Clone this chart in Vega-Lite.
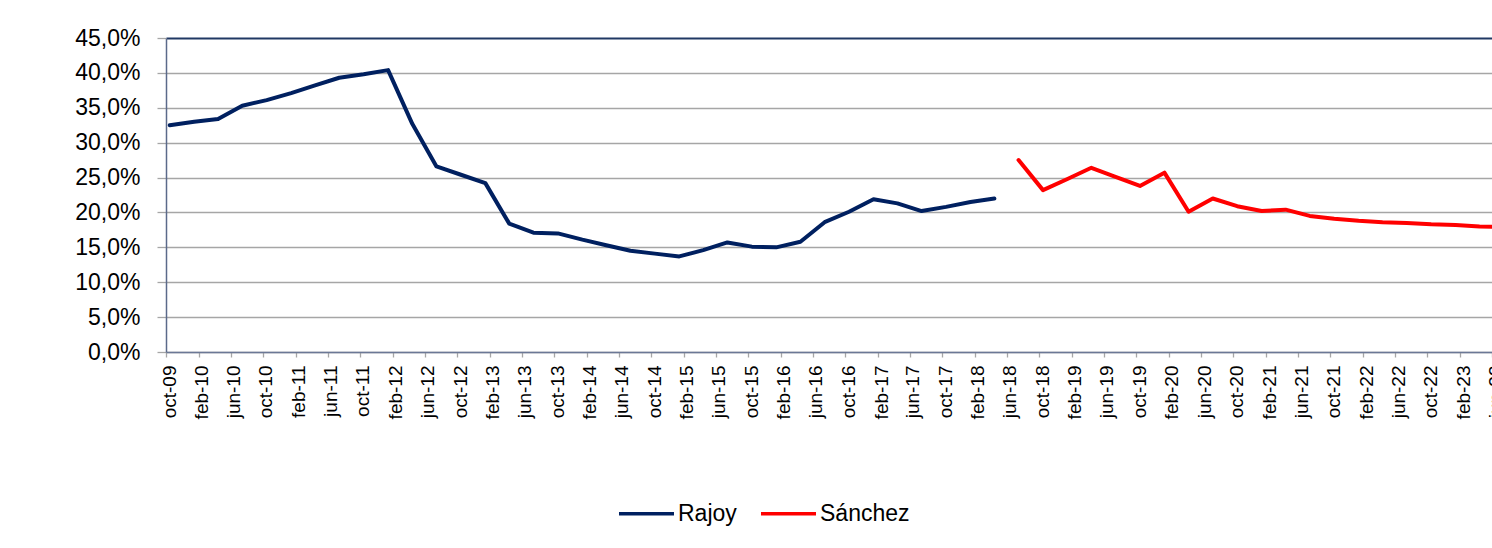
{
  "$schema": "https://vega.github.io/schema/vega-lite/v6.json",
  "width": 1326,
  "height": 314,
  "autosize": {"type": "none"},
  "padding": {"left": 166, "top": 38, "right": 0, "bottom": 196},
  "background": "white",
  "config": {
    "view": {"stroke": null},
    "font": "Liberation Sans"
  },
  "data": {
    "values": [
      {"fecha": "2009-10-15", "serie": "Rajoy", "tasa": 0.325},
      {"fecha": "2010-01-15", "serie": "Rajoy", "tasa": 0.330},
      {"fecha": "2010-04-15", "serie": "Rajoy", "tasa": 0.334},
      {"fecha": "2010-07-15", "serie": "Rajoy", "tasa": 0.353},
      {"fecha": "2010-10-15", "serie": "Rajoy", "tasa": 0.361},
      {"fecha": "2011-01-15", "serie": "Rajoy", "tasa": 0.371},
      {"fecha": "2011-04-15", "serie": "Rajoy", "tasa": 0.382},
      {"fecha": "2011-07-15", "serie": "Rajoy", "tasa": 0.393},
      {"fecha": "2011-10-15", "serie": "Rajoy", "tasa": 0.398},
      {"fecha": "2012-01-15", "serie": "Rajoy", "tasa": 0.404},
      {"fecha": "2012-04-15", "serie": "Rajoy", "tasa": 0.327},
      {"fecha": "2012-07-15", "serie": "Rajoy", "tasa": 0.266},
      {"fecha": "2012-10-15", "serie": "Rajoy", "tasa": 0.254},
      {"fecha": "2013-01-15", "serie": "Rajoy", "tasa": 0.242},
      {"fecha": "2013-04-15", "serie": "Rajoy", "tasa": 0.184},
      {"fecha": "2013-07-15", "serie": "Rajoy", "tasa": 0.171},
      {"fecha": "2013-10-15", "serie": "Rajoy", "tasa": 0.170},
      {"fecha": "2014-01-15", "serie": "Rajoy", "tasa": 0.161},
      {"fecha": "2014-04-15", "serie": "Rajoy", "tasa": 0.153},
      {"fecha": "2014-07-15", "serie": "Rajoy", "tasa": 0.145},
      {"fecha": "2014-10-15", "serie": "Rajoy", "tasa": 0.141},
      {"fecha": "2015-01-15", "serie": "Rajoy", "tasa": 0.137},
      {"fecha": "2015-04-15", "serie": "Rajoy", "tasa": 0.146},
      {"fecha": "2015-07-15", "serie": "Rajoy", "tasa": 0.157},
      {"fecha": "2015-10-15", "serie": "Rajoy", "tasa": 0.151},
      {"fecha": "2016-01-15", "serie": "Rajoy", "tasa": 0.150},
      {"fecha": "2016-04-15", "serie": "Rajoy", "tasa": 0.158},
      {"fecha": "2016-07-15", "serie": "Rajoy", "tasa": 0.186},
      {"fecha": "2016-10-15", "serie": "Rajoy", "tasa": 0.201},
      {"fecha": "2017-01-15", "serie": "Rajoy", "tasa": 0.219},
      {"fecha": "2017-04-15", "serie": "Rajoy", "tasa": 0.213},
      {"fecha": "2017-07-15", "serie": "Rajoy", "tasa": 0.202},
      {"fecha": "2017-10-15", "serie": "Rajoy", "tasa": 0.208},
      {"fecha": "2018-01-15", "serie": "Rajoy", "tasa": 0.215},
      {"fecha": "2018-04-15", "serie": "Rajoy", "tasa": 0.220},
      {"fecha": "2018-07-15", "serie": "Sánchez", "tasa": 0.275},
      {"fecha": "2018-10-15", "serie": "Sánchez", "tasa": 0.232},
      {"fecha": "2019-01-15", "serie": "Sánchez", "tasa": 0.248},
      {"fecha": "2019-04-15", "serie": "Sánchez", "tasa": 0.264},
      {"fecha": "2019-07-15", "serie": "Sánchez", "tasa": 0.251},
      {"fecha": "2019-10-15", "serie": "Sánchez", "tasa": 0.238},
      {"fecha": "2020-01-15", "serie": "Sánchez", "tasa": 0.257},
      {"fecha": "2020-04-15", "serie": "Sánchez", "tasa": 0.201},
      {"fecha": "2020-07-15", "serie": "Sánchez", "tasa": 0.220},
      {"fecha": "2020-10-15", "serie": "Sánchez", "tasa": 0.209},
      {"fecha": "2021-01-15", "serie": "Sánchez", "tasa": 0.202},
      {"fecha": "2021-04-15", "serie": "Sánchez", "tasa": 0.204},
      {"fecha": "2021-07-15", "serie": "Sánchez", "tasa": 0.195},
      {"fecha": "2021-10-15", "serie": "Sánchez", "tasa": 0.191},
      {"fecha": "2022-01-15", "serie": "Sánchez", "tasa": 0.188},
      {"fecha": "2022-04-15", "serie": "Sánchez", "tasa": 0.186},
      {"fecha": "2022-07-15", "serie": "Sánchez", "tasa": 0.185},
      {"fecha": "2022-10-15", "serie": "Sánchez", "tasa": 0.183},
      {"fecha": "2023-01-15", "serie": "Sánchez", "tasa": 0.182},
      {"fecha": "2023-04-15", "serie": "Sánchez", "tasa": 0.180},
      {"fecha": "2023-07-15", "serie": "Sánchez", "tasa": 0.179}
    ]
  },
  "mark": {"type": "line", "strokeWidth": 4, "strokeJoin": "round", "strokeCap": "round", "clip": true},
  "encoding": {
    "x": {
      "field": "fecha",
      "type": "temporal",
      "scale": {"domain": [{"year": 2009, "month": 10, "date": 1}, {"year": 2023, "month": 6, "date": 1}]},
      "axis": {
        "title": null,
        "grid": false,
        "values": [
          {"year": 2009, "month": 10, "date": 1},
          {"year": 2010, "month": 2, "date": 1}, {"year": 2010, "month": 6, "date": 1}, {"year": 2010, "month": 10, "date": 1},
          {"year": 2011, "month": 2, "date": 1}, {"year": 2011, "month": 6, "date": 1}, {"year": 2011, "month": 10, "date": 1},
          {"year": 2012, "month": 2, "date": 1}, {"year": 2012, "month": 6, "date": 1}, {"year": 2012, "month": 10, "date": 1},
          {"year": 2013, "month": 2, "date": 1}, {"year": 2013, "month": 6, "date": 1}, {"year": 2013, "month": 10, "date": 1},
          {"year": 2014, "month": 2, "date": 1}, {"year": 2014, "month": 6, "date": 1}, {"year": 2014, "month": 10, "date": 1},
          {"year": 2015, "month": 2, "date": 1}, {"year": 2015, "month": 6, "date": 1}, {"year": 2015, "month": 10, "date": 1},
          {"year": 2016, "month": 2, "date": 1}, {"year": 2016, "month": 6, "date": 1}, {"year": 2016, "month": 10, "date": 1},
          {"year": 2017, "month": 2, "date": 1}, {"year": 2017, "month": 6, "date": 1}, {"year": 2017, "month": 10, "date": 1},
          {"year": 2018, "month": 2, "date": 1}, {"year": 2018, "month": 6, "date": 1}, {"year": 2018, "month": 10, "date": 1},
          {"year": 2019, "month": 2, "date": 1}, {"year": 2019, "month": 6, "date": 1}, {"year": 2019, "month": 10, "date": 1},
          {"year": 2020, "month": 2, "date": 1}, {"year": 2020, "month": 6, "date": 1}, {"year": 2020, "month": 10, "date": 1},
          {"year": 2021, "month": 2, "date": 1}, {"year": 2021, "month": 6, "date": 1}, {"year": 2021, "month": 10, "date": 1},
          {"year": 2022, "month": 2, "date": 1}, {"year": 2022, "month": 6, "date": 1}, {"year": 2022, "month": 10, "date": 1},
          {"year": 2023, "month": 2, "date": 1}, {"year": 2023, "month": 6, "date": 1}
        ],
        "labelExpr": "['ene','feb','mar','abr','may','jun','jul','ago','sep','oct','nov','dic'][month(datum.value)] + '-' + timeFormat(datum.value, '%y')",
        "labelAngle": 270,
        "labelFont": "Liberation Sans",
        "labelFontSize": 19,
        "labelColor": "#000000",
        "labelPadding": 8,
        "labelOffset": 3,
        "labelOverlap": false,
        "labelFlush": false,
        "labelBound": false,
        "domainColor": "#6B7896",
        "domainWidth": 1.5,
        "tickColor": "#A6A6A6",
        "tickWidth": 1.3,
        "tickSize": 5
      }
    },
    "y": {
      "field": "tasa",
      "type": "quantitative",
      "scale": {"domain": [0, 0.45], "nice": false},
      "axis": {
        "title": null,
        "values": [0, 0.05, 0.1, 0.15, 0.2, 0.25, 0.3, 0.35, 0.4, 0.45],
        "labelExpr": "replace(format(datum.value, '.1%'), '.', ',')",
        "labelFont": "Liberation Sans",
        "labelFontSize": 23,
        "labelColor": "#000000",
        "labelPadding": 17,
        "domainColor": "#5B6A8A",
        "domainWidth": 1.5,
        "tickColor": "#A6A6A6",
        "tickWidth": 1.3,
        "tickSize": 9,
        "gridColor": {"condition": {"test": "datum.value >= 0.449", "value": "#203864"}, "value": "#A6A6A6"},
        "gridWidth": {"condition": {"test": "datum.value >= 0.449", "value": 2}, "value": 1.3}
      }
    },
    "color": {
      "field": "serie",
      "type": "nominal",
      "scale": {"domain": ["Rajoy", "Sánchez"], "range": ["#002060", "#FF0000"]},
      "legend": {
        "title": null,
        "orient": "none",
        "direction": "horizontal",
        "legendX": 451,
        "legendY": 446,
        "symbolType": "stroke",
        "symbolSize": 3025,
        "symbolStrokeWidth": 3.5,
        "labelFont": "Liberation Sans",
        "labelFontSize": 23,
        "labelColor": "#000000",
        "labelOffset": 2,
        "columnPadding": 17,
        "padding": 0
      }
    }
  }
}
